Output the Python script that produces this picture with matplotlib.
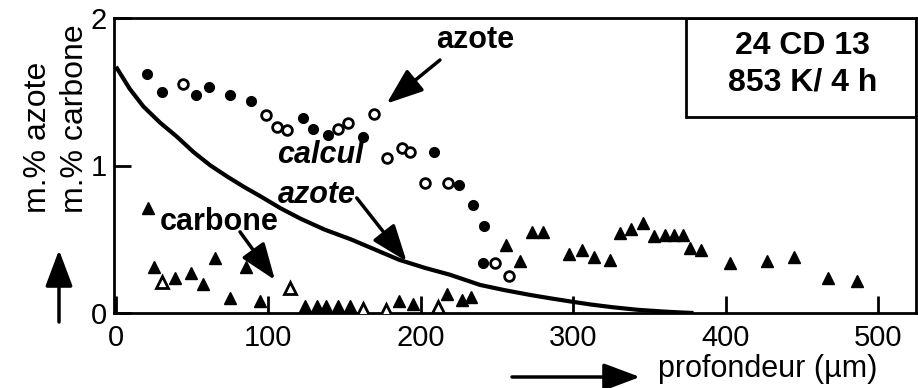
import matplotlib
matplotlib.use("Agg")
import matplotlib.pyplot as plt
from matplotlib.patches import Rectangle, FancyArrowPatch

plt.rcParams['font.family'] = ['Liberation Sans', 'DejaVu Sans']

# ---- data ----
# nitrogen (azote) measurements: filled and open circles
n_filled_x = [20.5, 30.5, 52.5, 61, 75, 88.5, 122.5, 129, 139, 162, 209, 225, 234.5, 241.5, 241]
n_filled_y = [1.62, 1.50, 1.48, 1.53, 1.48, 1.44, 1.32, 1.25, 1.21, 1.19, 1.09, 0.87, 0.73, 0.59, 0.34]
n_open_x = [44, 98.4, 105.4, 112, 146, 152, 169, 178, 187.5, 193, 203, 218, 249, 258]
n_open_y = [1.55, 1.34, 1.26, 1.24, 1.25, 1.29, 1.35, 1.05, 1.12, 1.09, 0.88, 0.88, 0.34, 0.25]

# carbon (carbone) measurements: filled and open triangles
c_filled_x = [21, 25, 39, 49, 57, 65, 75, 85, 94.5, 124, 132, 138, 146, 153.5, 186, 195,
              217, 227, 233, 256, 265, 273, 280, 297, 306, 314, 324, 331, 338, 346, 353,
              360, 366, 372, 377, 384, 403, 427, 445, 467, 486]
c_filled_y = [0.71, 0.31, 0.24, 0.27, 0.20, 0.37, 0.10, 0.31, 0.08, 0.05, 0.05, 0.05, 0.05, 0.05, 0.08, 0.06,
              0.13, 0.09, 0.11, 0.46, 0.35, 0.55, 0.55, 0.40, 0.43, 0.38, 0.36, 0.54, 0.57, 0.61, 0.52,
              0.53, 0.53, 0.53, 0.44, 0.43, 0.34, 0.35, 0.38, 0.24, 0.22]
c_open_x = [30, 114, 162, 177.5, 211.5]
c_open_y = [0.21, 0.17, 0.03, 0.02, 0.04]

# calculated nitrogen profile (calcul azote)
calc_x = [0, 9, 18, 29, 40, 51, 62, 73, 84, 95, 108, 121, 137, 154, 170, 186, 203, 219, 239, 255, 272, 286, 299, 312, 326, 342, 359, 370, 379]
calc_y = [1.67, 1.52, 1.40, 1.29, 1.195, 1.09, 1.00, 0.925, 0.855, 0.79, 0.71, 0.64, 0.565, 0.50, 0.43, 0.36, 0.305, 0.26, 0.19, 0.155, 0.122, 0.098, 0.077, 0.057, 0.039, 0.022, 0.01, 0.004, 0.0]

x_ticks = [0, 100, 200, 300, 400, 500]
y_ticks = [0, 1, 2]

# ---- figure ----
W, H = 918, 388
fig = plt.figure(figsize=(W / 100, H / 100), dpi=100)
ax = fig.add_axes([114 / W, 75 / H, 802 / W, 295 / H])
ax.set_xlim(-1.3, 525)
ax.set_ylim(0, 2)

ax.plot(calc_x, calc_y, color='black', lw=3.0, solid_capstyle='butt', zorder=2)
ax.plot(n_filled_x, n_filled_y, 'o', ms=7, color='black', zorder=3)
ax.plot(n_open_x, n_open_y, 'o', ms=7, mfc='white', mec='black', mew=2, zorder=3)
ax.plot(c_filled_x, c_filled_y, '^', ms=9, color='black', zorder=3)
ax.plot(c_open_x, c_open_y, '^', ms=9, mfc='white', mec='black', mew=2, zorder=3)

for s in ax.spines.values():
    s.set_linewidth(2)
ax.set_xticks(x_ticks)
ax.set_yticks(y_ticks)
ax.set_xticklabels([str(v) for v in x_ticks])
ax.set_yticklabels([str(v) for v in y_ticks])
ax.tick_params(direction='in', length=12, width=2, labelsize=21, pad=5)
ax.tick_params(axis='x', pad=8)

# info box
ax.add_patch(Rectangle((0.713, 0.664), 0.287, 0.336, transform=ax.transAxes,
                       fill=False, lw=2, color='black', zorder=4))
ax.text(0.859, 0.905, '24 CD 13', transform=ax.transAxes, ha='center', va='center',
        fontsize=23, fontweight='bold')
ax.text(0.859, 0.780, '853 K/ 4 h', transform=ax.transAxes, ha='center', va='center',
        fontsize=23, fontweight='bold')

arrow = dict(arrowstyle='-|>,head_length=0.8,head_width=0.3', lw=2.5, color='black',
             mutation_scale=28, shrinkA=0, shrinkB=0)

ax.text(236, 1.85, 'azote', ha='center', va='center', fontsize=22, fontweight='bold')
ax.annotate('', xy=(177.6, 1.42), xytext=(212.6, 1.715), arrowprops=arrow)

ax.text(134, 1.07, 'calcul', ha='center', va='center', fontsize=22, fontweight='bold', style='italic')
ax.text(132, 0.80, 'azote', ha='center', va='center', fontsize=22, fontweight='bold', style='italic')
ax.annotate('', xy=(190.7, 0.35), xytext=(158, 0.78), arrowprops=arrow)

ax.text(68, 0.615, 'carbone', ha='center', va='center', fontsize=22, fontweight='bold')
ax.annotate('', xy=(104.3, 0.224), xytext=(81.4, 0.55), arrowprops=arrow)

# axis titles with arrows (figure pixel coordinates)
fig.text(38 / W, 1 - 213 / H, 'm.% azote', rotation=90, ha='center', va='bottom', fontsize=23)
fig.text(75 / W, 1 - 213 / H, 'm.% carbone', rotation=90, ha='center', va='bottom', fontsize=23)
fig.patches.append(FancyArrowPatch(
    (59 / W, 1 - 322 / H), (59 / W, 1 - 250 / H), transform=fig.transFigure,
    arrowstyle='-|>,head_length=0.8,head_width=0.3', lw=2.5, color='black',
    mutation_scale=28, shrinkA=0, shrinkB=0))

fig.text(658 / W, 1 - 369 / H, 'profondeur (µm)', ha='left', va='center', fontsize=22)
fig.patches.append(FancyArrowPatch(
    (512 / W, 1 - 377 / H), (640 / W, 1 - 377 / H), transform=fig.transFigure,
    arrowstyle='-|>,head_length=0.8,head_width=0.3', lw=2.5, color='black',
    mutation_scale=28, shrinkA=0, shrinkB=0))

fig.savefig('out.png', dpi=100)
